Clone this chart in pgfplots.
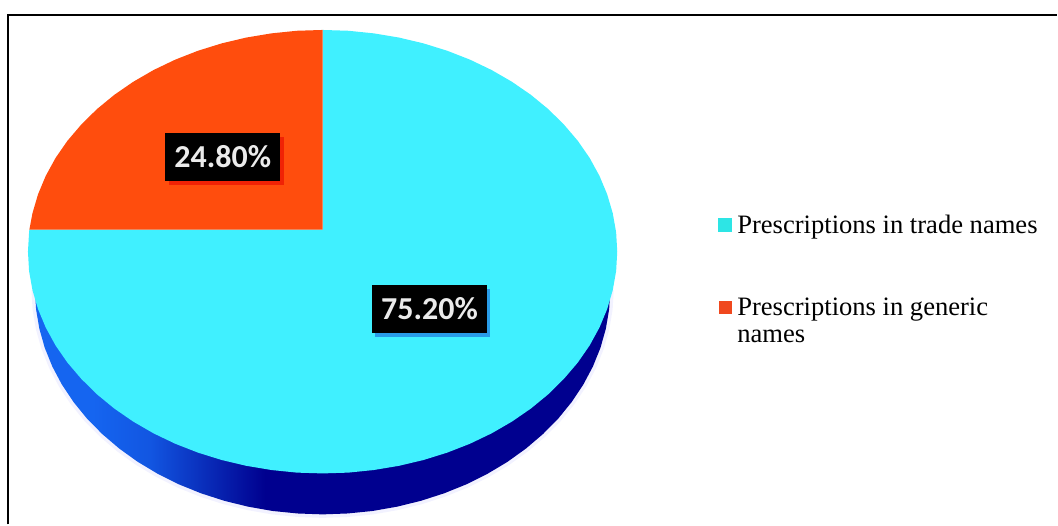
\documentclass[border=0pt]{standalone}
\usepackage{pgfplots}
\pgfplotsset{compat=1.18}
\usepackage{fontspec}
\setmainfont{Liberation Serif}
\newfontfamily\labelfont{Carlito}
\definecolor{tradecyan}{HTML}{40F0FF}
\definecolor{genericred}{HTML}{FF4D0D}
\definecolor{rimnavy}{HTML}{00008F}
\definecolor{rimblue}{HTML}{1565F0}
\definecolor{legcyan}{HTML}{2DE5E5}
\definecolor{legred}{HTML}{F0481E}
\pgfdeclarehorizontalshading{rimshade}{100bp}{
  color(0bp)=(rimblue); color(30bp)=(rimblue); color(35bp)=(rimblue!85!rimnavy);
  color(45bp)=(rimnavy); color(100bp)=(rimnavy)}
\begin{document}
\begin{tikzpicture}
\begin{axis}[
  scale only axis, width=1058bp, height=525bp,
  xmin=0, xmax=1058, ymin=0, ymax=525, y dir=reverse,
  hide axis, clip=false]

% page extent
\path (axis cs:0,0) rectangle (axis cs:1058,525);

% soft halo below the disc
\addplot [draw=blue!5, line width=7bp, fill=none] coordinates {
  (35,290)(36.1,309.6)(39.4,329.1)(44.8,348.2)(52.4,367)(62,385.1)(73.6,402.5)(87.1,419.1)(102.4,434.6)(119.4,449.1)(137.9,462.4)(157.8,474.3)(179,484.9)(201.3,493.9)(224.5,501.4)(248.5,507.3)(273,511.6)(297.9,514.1)(323,515)
  (348.1,514.1)(373,511.6)(397.5,507.3)(421.5,501.4)(444.7,493.9)(467,484.9)(488.2,474.3)(508.1,462.4)(526.6,449.1)(543.6,434.6)(558.9,419.1)(572.4,402.5)(584,385.1)(593.6,367)(601.2,348.2)(606.6,329.1)(609.9,309.6)(611,290)};

% rim of the disc
\addplot [draw=none, shading=rimshade] coordinates {
  (35,290)(36.1,309.6)(39.4,329.1)(44.8,348.2)(52.4,367)(62,385.1)(73.6,402.5)(87.1,419.1)(102.4,434.6)(119.4,449.1)(137.9,462.4)(157.8,474.3)(179,484.9)(201.3,493.9)(224.5,501.4)(248.5,507.3)(273,511.6)(297.9,514.1)(323,515)
  (348.1,514.1)(373,511.6)(397.5,507.3)(421.5,501.4)(444.7,493.9)(467,484.9)(488.2,474.3)(508.1,462.4)(526.6,449.1)(543.6,434.6)(558.9,419.1)(572.4,402.5)(584,385.1)(593.6,367)(601.2,348.2)(606.6,329.1)(609.9,309.6)(611,290)} -- cycle;

% Prescriptions in trade names: 75.2 %
\addplot [draw=none, fill=tradecyan] coordinates {
  (323,230)(29.4,230)(29.1,232.7)(28,252)
  (29.1,271.3)(32.5,290.5)(38.1,309.5)(45.8,327.9)(55.6,345.8)(67.5,363)(81.4,379.3)(97,394.7)(114.4,409)(133.4,422.1)(153.8,433.9)(175.5,444.3)(198.3,453.2)(222.1,460.6)(246.6,466.4)(271.8,470.6)(297.3,473.2)(323,474)
  (348.7,473.2)(374.2,470.6)(399.4,466.4)(423.9,460.6)(447.7,453.2)(470.5,444.3)(492.2,433.9)(512.6,422.1)(531.6,409)(549,394.7)(564.6,379.3)(578.5,363)(590.4,345.8)(600.2,327.9)(607.9,309.5)(613.5,290.5)(616.9,271.3)(618,252)
  (616.9,232.7)(613.5,213.5)(607.9,194.5)(600.2,176.1)(590.4,158.2)(578.5,141)(564.6,124.7)(549,109.3)(531.6,95)(512.6,81.9)(492.2,70.1)(470.5,59.7)(447.7,50.8)(423.9,43.4)(399.4,37.6)(374.2,33.4)(348.7,30.8)(323,30)} -- cycle;

% Prescriptions in generic names: 24.8 %
\addplot [draw=none, fill=genericred] coordinates {
  (323,230)(323,30)(297.3,30.8)(271.8,33.4)(246.6,37.6)(222.1,43.4)(198.3,50.8)(175.5,59.7)(153.8,70.1)(133.4,81.9)(114.4,95)(97,109.3)(81.4,124.7)(67.5,141)(55.6,158.2)(45.8,176.1)(38.1,194.5)(32.5,213.5)(29.4,230)} -- cycle;

% value labels with their shadows
\fill [red!90!black, opacity=.55] (axis cs:169,137) rectangle (axis cs:284,185);
\fill [blue!75!black, opacity=.35] (axis cs:375,289) rectangle (axis cs:491,337);
\node [fill=black, text=white!92!black, font=\labelfont\bfseries\fontsize{32bp}{32bp}\selectfont,
  minimum width=115bp, minimum height=48bp, inner sep=0pt] at (axis cs:223,157) {24.80\%};
\node [fill=black, text=white!92!black, font=\labelfont\bfseries\fontsize{32bp}{32bp}\selectfont,
  minimum width=115bp, minimum height=48bp, inner sep=0pt] at (axis cs:430,309) {75.20\%};

% legend
\addplot [only marks, mark=square*, mark size=6.5bp, mark options={draw=legcyan, fill=legcyan}] coordinates {(726,225)};
\addplot [only marks, mark=square*, mark size=6bp, mark options={draw=legred, fill=legred}] coordinates {(726,307.5)};
\node [anchor=base west, inner sep=0pt, font=\fontsize{26.6bp}{27bp}\selectfont] at (axis cs:738,234) {Prescriptions in trade names};
\node [anchor=base west, inner sep=0pt, font=\fontsize{26.6bp}{27bp}\selectfont] at (axis cs:738,315.7) {Prescriptions in generic};
\node [anchor=base west, inner sep=0pt, font=\fontsize{26.6bp}{27bp}\selectfont] at (axis cs:738,342.7) {names};

% frame along the left and top
\draw [black, line width=2.6bp] (axis cs:8,525) -- (axis cs:8,15) -- (axis cs:1058,15);
\end{axis}
\end{tikzpicture}
\end{document}
